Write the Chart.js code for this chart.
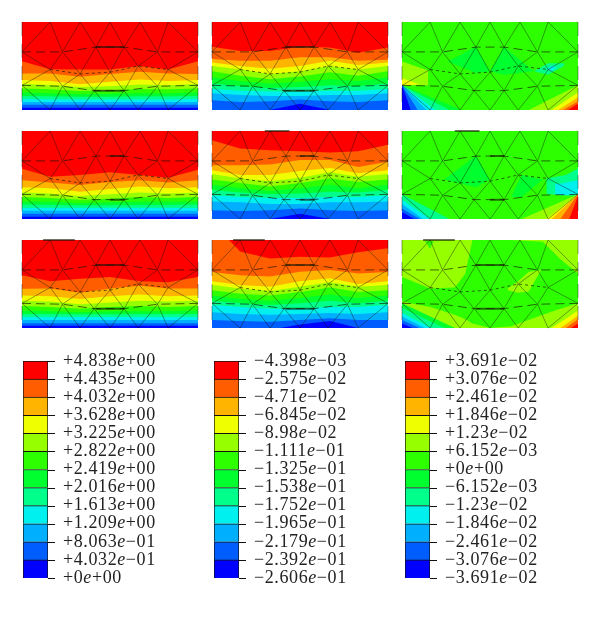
<!DOCTYPE html>
<html>
<head>
<meta charset="utf-8">
<script src="https://cdn.jsdelivr.net/npm/chart.js@4"></script>
<style>
  body { margin: 0; background: #fff; }
  canvas { position: absolute; }
</style>
</head>
<body>
<script>
// contour levels, bottom to top
const palette = ['#0000ff','#005dff','#00b0ff','#00f0f0','#00ff8b','#00ff2e','#2eff00','#96ff00','#f0ff00','#ffb400','#ff5d00','#ff0000'];

const labelsA = ['+4.838e+00','+4.435e+00','+4.032e+00','+3.628e+00','+3.225e+00','+2.822e+00','+2.419e+00','+2.016e+00','+1.613e+00','+1.209e+00','+8.063e\u221201','+4.032e\u221201','+0e+00'];
const labelsB = ['\u22124.398e\u221203','\u22122.575e\u221202','\u22124.71e\u221202','\u22126.845e\u221202','\u22128.98e\u221202','\u22121.111e\u221201','\u22121.325e\u221201','\u22121.538e\u221201','\u22121.752e\u221201','\u22121.965e\u221201','\u22122.179e\u221201','\u22122.392e\u221201','\u22122.606e\u221201'];
const labelsC = ['+3.691e\u221202','+3.076e\u221202','+2.461e\u221202','+1.846e\u221202','+1.23e\u221202','+6.152e\u221203','+0e+00','\u22126.152e\u221203','\u22121.23e\u221202','\u22121.846e\u221202','\u22122.461e\u221202','\u22123.076e\u221202','\u22123.691e\u221202'];

// contour boundaries sampled along the width, lowest level first
const stationX = [0, .16, .33, .5, .67, .83, 1];
const floorY = [0, 0, 0, 0, 0, 0, 0];

const bands11 = [
  [.025,.025,.025,.025,.025,.025,.025],
  [.06,.06,.06,.06,.06,.06,.06],
  [.09,.09,.09,.09,.09,.09,.09],
  [.125,.12,.12,.12,.12,.12,.125],
  [.16,.155,.15,.15,.155,.155,.16],
  [.2,.19,.18,.185,.19,.19,.2],
  [.245,.235,.215,.225,.24,.235,.245],
  [.295,.285,.26,.27,.29,.28,.295],
  [.34,.33,.294,.32,.347,.33,.34],
  [.415,.415,.377,.408,.434,.415,.408],
  [.555,.464,.46,.46,.5,.46,.555]
];
const bands12 = [
  [0,0,0,.07,0,0,0],
  [.11,.09,.1,.12,.1,.09,.11],
  [.19,.17,.16,.16,.17,.17,.19],
  [.24,.22,.21,.21,.22,.22,.24],
  [.3,.27,.25,.26,.28,.27,.3],
  [.37,.33,.3,.32,.35,.33,.37],
  [.44,.39,.35,.38,.43,.39,.44],
  [.5,.46,.41,.44,.5,.46,.5],
  [.54,.5,.47,.5,.56,.51,.54],
  [.58,.56,.56,.6,.6,.56,.57],
  [.72,.67,.67,.72,.71,.65,.71]
];
const bands21 = [
  [.025,.025,.025,.025,.025,.025,.025],
  [.06,.06,.06,.06,.06,.06,.06],
  [.095,.095,.095,.095,.095,.095,.095],
  [.125,.125,.125,.125,.125,.125,.125],
  [.165,.16,.155,.155,.16,.16,.165],
  [.2,.2,.18,.19,.2,.2,.2],
  [.25,.24,.22,.23,.25,.24,.25],
  [.3,.29,.26,.28,.3,.29,.3],
  [.36,.35,.31,.34,.37,.35,.36],
  [.44,.415,.385,.42,.44,.415,.44],
  [.57,.48,.5,.53,.5,.47,.56]
];
const bands22 = [
  [0,0,0,.06,0,0,0],
  [.1,.09,.1,.12,.1,.09,.1],
  [.2,.19,.17,.17,.19,.19,.2],
  [.27,.25,.24,.24,.25,.25,.27],
  [.33,.3,.28,.29,.31,.3,.33],
  [.39,.35,.32,.35,.39,.35,.39],
  [.45,.41,.37,.41,.46,.42,.45],
  [.51,.46,.43,.47,.53,.48,.51],
  [.555,.5,.5,.545,.58,.52,.555],
  [.61,.61,.62,.67,.67,.59,.65],
  [.895,.8,.78,.77,.755,.77,.845]
];
const bands31 = [
  [.025,.025,.025,.025,.025,.025,.025],
  [.055,.055,.055,.055,.055,.055,.055],
  [.09,.09,.09,.09,.09,.09,.09],
  [.125,.125,.125,.125,.125,.125,.125],
  [.16,.16,.155,.155,.16,.16,.16],
  [.2,.19,.18,.19,.19,.19,.2],
  [.25,.24,.22,.24,.25,.24,.25],
  [.31,.3,.27,.29,.31,.3,.31],
  [.37,.36,.33,.36,.38,.36,.37],
  [.445,.45,.4,.45,.48,.45,.45],
  [.6,.53,.56,.58,.53,.52,.58]
];
const bands32 = [
  [0,-.02,-.02,.04,.08,0,-.02],
  [.09,.08,.07,.09,.11,.09,.09],
  [.18,.16,.15,.16,.17,.16,.18],
  [.26,.24,.22,.22,.24,.24,.26],
  [.31,.28,.26,.28,.31,.28,.31],
  [.37,.33,.31,.34,.38,.34,.37],
  [.43,.39,.37,.41,.46,.41,.43],
  [.49,.45,.42,.47,.52,.47,.49],
  [.53,.49,.47,.53,.565,.5,.53],
  [.635,.6,.585,.64,.66,.62,.635],
  [1.2,.87,.79,.81,.8,.86,.905]
];

// patches for the right column: [level, x, upper, lower]
const patches13 = [
  [5, [.26,.42,.5], [.55,.72,.44], [.55,.42,.44]],
  [5, [.5,.58,.75], [.44,.72,.44], [.44,.4,.44]],
  [7, [0,.15], [.55,.45], [.28,.28]],
  [8, [0,.03,.1], [.36,.34,.29], [.28,.28,.29]],
  [5, [0,.34], [.28,0], [0,0]],
  [4, [0,.27], [.28,0], [0,0]],
  [3, [0,.19], [.28,0], [0,0]],
  [2, [0,.14], [.28,0], [0,0]],
  [1, [0,.09], [.28,0], [0,0]],
  [0, [0,.05], [.28,0], [0,0]],
  [7, [.72,1], [0,.28], [0,0]],
  [8, [.85,1], [0,.2], [0,0]],
  [9, [.887,1], [0,.145], [0,0]],
  [10, [.915,1], [0,.1], [0,0]],
  [11, [.943,1], [0,.07], [0,0]],
  [4, [.75,.83,.92], [.44,.53,.53], [.44,.4,.5]],
  [3, [.82,.85,.88], [.47,.5,.49], [.47,.44,.49]]
];
const patches23 = [
  [5, [.24,.42,.5], [.45,.72,.45], [.45,.36,.45]],
  [5, [.62,.68,.8], [.25,.5,.45], [.25,.25,.45]],
  [4, [.82,.93,1], [.46,.5,.575], [.28,.27,.27]],
  [3, [.87,.9,1], [.4,.4,.44], [.28,.27,.27]],
  [4, [0,.27], [.28,0], [0,0]],
  [3, [0,.16], [.22,0], [0,0]],
  [2, [0,.12], [.17,0], [0,0]],
  [1, [0,.1], [.12,0], [0,0]],
  [0, [0,.07], [.08,0], [0,0]],
  [7, [.68,1], [0,.28], [0,0]],
  [8, [.82,1], [0,.28], [0,0]],
  [9, [.85,1], [0,.28], [0,0]],
  [10, [.9,1], [0,.28], [0,0]],
  [11, [.95,1], [0,.26], [0,0]]
];
const patches33 = [
  [6, [0,.16,.3,.36,.4,.5,.62,.8,.9,1], [.58,.45,.46,.62,1,1,1,.98,.78,.62], [.3,.24,.15,.1,.05,0,.02,.15,.22,.28]],
  [7, [.6,.66,.72,.79], [.45,.53,.64,.66], [.43,.4,.415,.66]],
  [6, [.13,.16,.18], [.99,.99,.99], [.99,.9,.99]],
  [5, [0,.3], [.28,0], [0,0]],
  [4, [0,.24], [.23,0], [0,0]],
  [3, [0,.17], [.17,0], [0,0]],
  [2, [0,.13], [.13,0], [0,0]],
  [1, [0,.1], [.09,0], [0,0]],
  [0, [0,.06], [.05,0], [0,0]],
  [8, [.85,1], [0,.2], [0,0]],
  [9, [.9,1], [0,.14], [0,0]],
  [10, [.93,1], [0,.1], [0,0]],
  [11, [.96,1], [0,.05], [0,0]]
];

// mesh nodes by row
const topX = [.16,.33,.5,.67,.83];
const rowBX = [0,.23,.42,.58,.77,1];
const rowBY = [.66,.66,.715,.715,.66,.66];
const rowCX = [.16,.33,.5,.66,.83];
const rowCY = [.46,.41,.43,.5,.46];
const rowDX = [0,.23,.41,.58,.77,1];
const rowDY = [.28,.27,.22,.22,.27,.28];
const botX = [.16,.33,.5,.66,.83];

// heavier element edges per figure row: x1, y1, x2, y2
const bold1 = [[.42,.715,.58,.715],[.41,.22,.58,.22]];
const bold2 = [[.5,.715,.58,.715],[.5,.22,.58,.22],[.3,1,.44,1]];
const bold21 = [[.5,.715,.58,.715],[.5,.22,.58,.22]];
const bold3 = [[.42,.715,.58,.715],[.42,.22,.58,.22],[.12,1,.3,1]];

Chart.defaults.animation = false;

function addCanvas(left, top, w, h, soft) {
  const c = document.createElement('canvas');
  c.width = w;
  c.height = h;
  c.style.left = left + 'px';
  c.style.top = top + 'px';
  c.style.width = w + 'px';
  c.style.height = h + 'px';
  if (soft) c.style.filter = 'blur(0.5px)';
  document.body.appendChild(c);
  return c.getContext('2d');
}

function segs(pairs) {
  const out = [];
  pairs.forEach(p => {
    out.push({x: p[0], y: p[1]}, {x: p[2], y: p[3]}, {x: null, y: null});
  });
  return out;
}

function meshEdges() {
  const e = [];
  topX.forEach((x, i) => {
    e.push([x, 1, rowBX[i], rowBY[i]], [x, 1, rowBX[i + 1], rowBY[i + 1]]);
  });
  rowCX.forEach((x, i) => {
    e.push([rowBX[i], rowBY[i], x, rowCY[i]], [rowBX[i + 1], rowBY[i + 1], x, rowCY[i]]);
    e.push([x, rowCY[i], rowDX[i], rowDY[i]], [x, rowCY[i], rowDX[i + 1], rowDY[i + 1]]);
  });
  botX.forEach((x, i) => {
    e.push([rowDX[i], rowDY[i], x, 0], [rowDX[i + 1], rowDY[i + 1], x, 0]);
  });
  return e;
}

function polyline(xs, ys) {
  return xs.map((x, i) => ({x: x, y: ys[i]}));
}

function drawPanel(left, top, base, bands, patches, bold) {
  const datasets = [];
  const pad = 4;
  const flat = (pts, extra) => Object.assign({data: pts, pointRadius: 0, borderWidth: 0, tension: 0, fill: false}, extra);

  datasets.unshift(flat(polyline(stationX, floorY), {fill: 'end', backgroundColor: palette[base]}));
  bands.forEach((b, i) => {
    datasets.unshift(flat(polyline(stationX, b), {fill: 'end', backgroundColor: palette[base + i + 1]}));
  });
  patches.forEach(p => {
    datasets.unshift(flat(polyline(p[1], p[3])));
    datasets.unshift(flat(polyline(p[1], p[2]), {fill: '+1', backgroundColor: palette[p[0]]}));
  });

  const edge = {borderColor: 'rgba(20,20,0,0.42)', borderWidth: 1, clip: pad};
  datasets.unshift(flat(segs(meshEdges()), edge));
  datasets.unshift(flat(polyline(rowBX, rowBY), Object.assign({}, edge, {borderDash: [9, 5], borderColor: 'rgba(20,20,0,0.65)'})));
  datasets.unshift(flat(polyline(rowCX, rowCY), Object.assign({}, edge, {borderDash: [3, 3], borderColor: 'rgba(20,20,0,0.65)'})));
  datasets.unshift(flat(polyline(rowDX, rowDY), Object.assign({}, edge, {borderDash: [9, 5], borderColor: 'rgba(20,20,0,0.65)'})));
  datasets.unshift(flat(segs([[0,1,0,0],[1,1,1,0]]), Object.assign({}, edge, {borderDash: [14, 8]})));
  datasets.unshift(flat(segs(bold), Object.assign({}, edge, {borderWidth: 2, borderColor: 'rgba(20,20,0,0.6)'})));

  new Chart(addCanvas(left - pad, top - pad, 176 + pad * 2, 88 + pad * 2, true), {
    type: 'line',
    data: {datasets: datasets},
    options: {
      responsive: false,
      events: [],
      layout: {padding: pad},
      plugins: {legend: {display: false}, tooltip: {enabled: false}},
      scales: {
        x: {type: 'linear', min: 0, max: 1, display: false},
        y: {min: 0, max: 1, display: false}
      }
    }
  });
}

const scaleTicks = {
  id: 'scaleTicks',
  afterDraw(chart) {
    const {ctx, chartArea, scales} = chart;
    const labels = chart.options.plugins.scaleTicks.labels;
    ctx.save();
    labels.forEach((text, i) => {
      const y = scales.y.getPixelForValue(12 - i);
      ctx.strokeStyle = '#111';
      ctx.lineWidth = 1;
      ctx.beginPath();
      ctx.moveTo(chartArea.right, Math.round(y) + .5);
      ctx.lineTo(chartArea.right + 7, Math.round(y) + .5);
      ctx.stroke();
      const parts = text.split('e');
      let x = chartArea.right + 15;
      ctx.fillStyle = '#222';
      ctx.textBaseline = 'middle';
      ctx.letterSpacing = '0.6px';
      ctx.font = '18px "Liberation Serif"';
      ctx.fillText(parts[0], x, y);
      x += ctx.measureText(parts[0]).width;
      ctx.font = 'italic 18px "Liberation Serif"';
      ctx.fillText('e', x, y);
      x += ctx.measureText('e').width;
      ctx.font = '18px "Liberation Serif"';
      ctx.fillText(parts[1], x, y);
    });
    ctx.restore();
  }
};

function drawScale(left, labels) {
  new Chart(addCanvas(left, 350, 180, 240, false), {
    type: 'bar',
    data: {
      labels: [''],
      datasets: palette.map(c => ({
        data: [1],
        backgroundColor: c,
        borderColor: '#111',
        borderWidth: 1,
        barPercentage: 1,
        categoryPercentage: 1
      }))
    },
    options: {
      responsive: false,
      events: [],
      layout: {padding: {left: 13, right: 142, top: 11, bottom: 12}},
      plugins: {legend: {display: false}, tooltip: {enabled: false}, scaleTicks: {labels: labels}},
      scales: {
        x: {stacked: true, display: false},
        y: {stacked: true, min: 0, max: 12, display: false}
      }
    },
    plugins: [scaleTicks]
  });
}

const colX = [22, 212, 402];
const rowY = [22, 131, 240];

drawPanel(colX[0], rowY[0], 0, bands11, [], bold1);
drawPanel(colX[1], rowY[0], 0, bands12, [], bold1);
drawPanel(colX[2], rowY[0], 6, [], patches13, []);
drawPanel(colX[0], rowY[1], 0, bands21, [], bold21);
drawPanel(colX[1], rowY[1], 0, bands22, [], bold2);
drawPanel(colX[2], rowY[1], 6, [], patches23, bold2);
drawPanel(colX[0], rowY[2], 0, bands31, [], bold3);
drawPanel(colX[1], rowY[2], 0, bands32, [], bold3);
drawPanel(colX[2], rowY[2], 7, [], patches33, bold3);

drawScale(10, labelsA);
drawScale(201, labelsB);
drawScale(392, labelsC);
</script>
</body>
</html>
